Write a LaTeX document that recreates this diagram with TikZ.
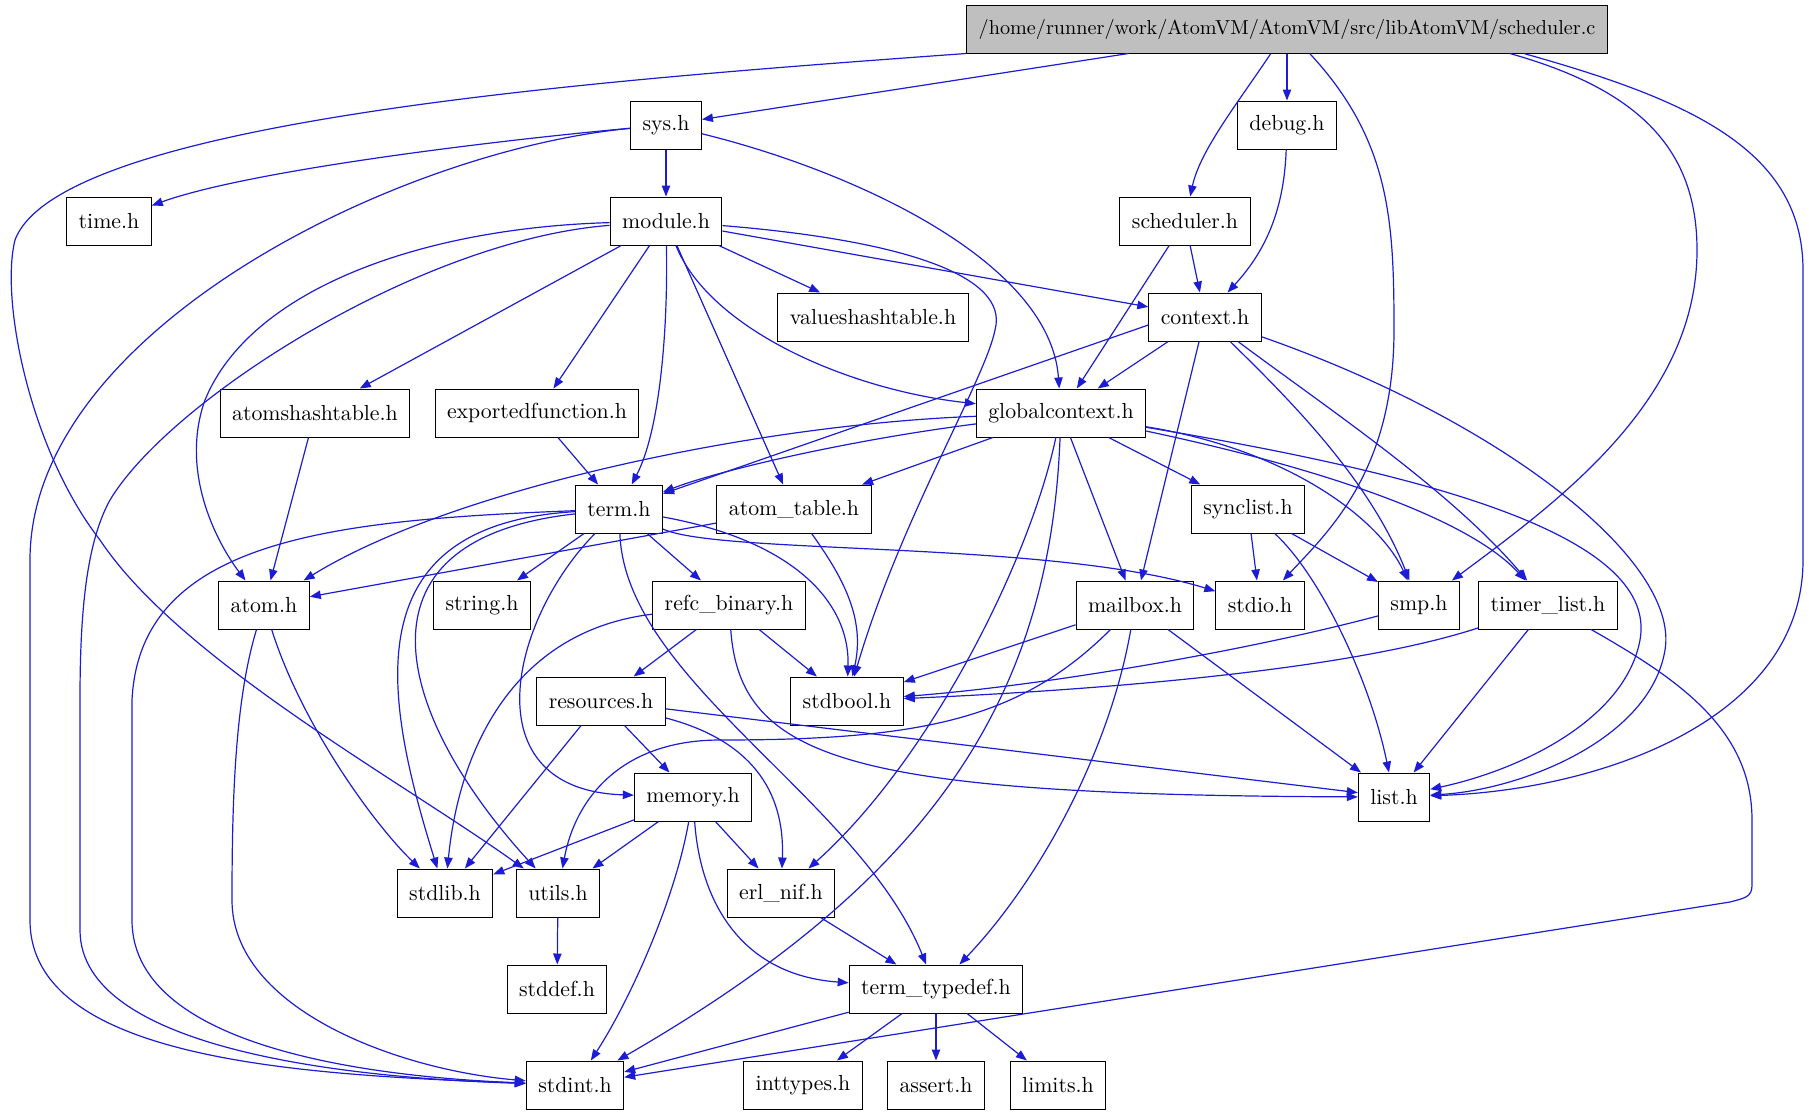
\documentclass[tikz,border=0pt]{standalone}
\usepackage{tikz}
\usetikzlibrary{arrows.meta}
\definecolor{dxblue}{HTML}{1C1CD4}
\definecolor{dxgray}{HTML}{BFBFBF}
\definecolor{dxink}{HTML}{000000}

\begin{document}
\begin{tikzpicture}[
  x=0.5pt, y=-0.5pt,
  font=\fontsize{10.9}{13}\selectfont,
  >={Triangle[length=5.5pt, width=4.2pt]},
  % a header is a plain white box, the source file itself is grey
  file/.style = {draw=dxink, fill=white, line width=0.5pt, inner xsep=6pt,
                 inner ysep=0pt, minimum height=24pt},
  root/.style = {file, fill=dxgray, font=\fontsize{10.1}{13}\selectfont},
  inc/.style  = {->, draw=dxblue, line width=0.6pt},
]
\useasboundingbox (0,0) rectangle (1809,1115);

% ================================================================ files ===
\node[root] (sched)     at (1287,29)  {/home/runner/work/AtomVM/AtomVM/src/libAtomVM/scheduler.c};
\node[file] (sysh)      at (666,125)  {sys.h};
\node[file] (debug)     at (1287,125) {debug.h};
\node[file] (timeh)     at (109,221)  {time.h};
\node[file] (module)    at (666,221)  {module.h};
\node[file] (schedh)    at (1185,221) {scheduler.h};
\node[file] (values)    at (873,317)  {valueshashtable.h};
\node[file] (context)   at (1205,317) {context.h};
\node[file] (atomshash) at (315,413)  {atomshashtable.h};
\node[file] (exported)  at (537,413)  {exportedfunction.h};
\node[file] (global)    at (1061,413) {globalcontext.h};
\node[file] (term)      at (619,509)  {term.h};
\node[file] (atomtab)   at (794,509)  {atom\_table.h};
\node[file] (synclist)  at (1248,509) {synclist.h};
\node[file] (atom)      at (264,605)  {atom.h};
\node[file] (string)    at (482,605)  {string.h};
\node[file] (refc)      at (729,605)  {refc\_binary.h};
\node[file] (mailbox)   at (1135,605) {mailbox.h};
\node[file] (stdio)     at (1260,605) {stdio.h};
\node[file] (smp)       at (1419,605) {smp.h};
\node[file] (timer)     at (1548,605) {timer\_list.h};
\node[file] (resources) at (601,701)  {resources.h};
\node[file] (stdbool)   at (847,701)  {stdbool.h};
\node[file] (memory)    at (693,797)  {memory.h};
\node[file] (list)      at (1394,797) {list.h};
\node[file] (stdlib)    at (445,893)  {stdlib.h};
\node[file] (utils)     at (558,893)  {utils.h};
\node[file] (erlnif)    at (781,893)  {erl\_nif.h};
\node[file] (stddef)    at (557,989)  {stddef.h};
\node[file] (typedef)   at (936,989)  {term\_typedef.h};
\node[file] (stdint)    at (575,1085) {stdint.h};
\node[file] (inttypes)  at (803,1085) {inttypes.h};
\node[file] (assert)    at (936,1085) {assert.h};
\node[file] (limits)    at (1058,1085){limits.h};

% ========================================================= scheduler.c ===
\draw[inc] (sched) -- (sysh);
\draw[inc] (sched) -- (debug);
\draw[inc] (sched) .. controls (1240,100) and (1200,150) .. (schedh);
\draw[inc] (sched.south west) .. controls (600,80) and (60,120) .. (15,240)
           .. controls (0,300) and (30,450) .. (100,540)
           .. controls (180,660) and (400,780) .. (utils);
\draw[inc] (sched) .. controls (1390,140) and (1394,220) .. (1394,330)
           .. controls (1394,470) and (1330,530) .. (stdio);
\draw[inc] ([xshift=-49pt]sched.south east) .. controls (1640,90) and (1697,150) .. (1697,250)
           .. controls (1697,400) and (1560,500) .. (smp);
\draw[inc] ([xshift=-42pt]sched.south east) .. controls (1690,100) and (1803,150) .. (1803,270)
           -- (1803,560) .. controls (1803,720) and (1600,790) .. (list);

% =============================================================== sys.h ===
\draw[inc] (sysh) -- (module);
\draw[inc] (sysh) .. controls (500,140) and (250,170) .. (timeh);
\draw[inc] (sysh) .. controls (850,170) and (1050,260) .. (global);
\draw[inc] (sysh) .. controls (400,150) and (30,330) .. (30,560)
           -- (30,920) .. controls (30,1060) and (300,1075) .. (stdint);

% ============================================================ module.h ===
\draw[inc] (module) -- (values);
\draw[inc] (module) -- (atomshash);
\draw[inc] (module) -- (exported);
\draw[inc] (module) -- (atomtab);
\draw[inc] (module) -- (context);
\draw[inc] (module) .. controls (668,330) and (660,430) .. (term);
\draw[inc] (module) .. controls (710,330) and (850,390) .. (global);
\draw[inc] (module) .. controls (900,240) and (1010,275) .. (995,330)
           .. controls (985,380) and (900,520) .. (stdbool);
\draw[inc] (module) .. controls (420,228) and (250,290) .. (205,400)
           .. controls (180,470) and (215,540) .. (atom);
\draw[inc] (module) .. controls (420,240) and (170,400) .. (110,500)
           .. controls (85,545) and (80,620) .. (80,700) -- (80,930)
           .. controls (80,1050) and (350,1078) .. (stdint);

% ======================================= scheduler.h, debug.h, context.h ===
\draw[inc] (schedh) -- (context);
\draw[inc] (schedh) -- (global);
\draw[inc] (debug) .. controls (1284,215) and (1262,255) .. (context);
\draw[inc] (context) -- (global);
\draw[inc] ([yshift=-4pt]context.west) -- (term);
\draw[inc] (context) -- (mailbox);
\draw[inc] (context) .. controls (1290,400) and (1370,480) .. (smp);
\draw[inc] (context) .. controls (1330,410) and (1450,490) .. (timer);
\draw[inc] (context) .. controls (1500,420) and (1680,560) .. (1665,650)
           .. controls (1650,740) and (1520,790) .. (list);

% ====================================================== globalcontext.h ===
\draw[inc] (global) .. controls (850,440) and (720,470) .. (term);
\draw[inc] (global) .. controls (750,425) and (450,490) .. (atom);
\draw[inc] (global) -- (atomtab);
\draw[inc] (global) -- (synclist);
\draw[inc] (global) -- (mailbox);
\draw[inc] (global) .. controls (1030,560) and (930,760) .. (erlnif);
\draw[inc] (global) .. controls (1050,700) and (930,880) .. (stdint);
\draw[inc] (global) .. controls (1290,450) and (1380,520) .. (smp);
\draw[inc] (global) .. controls (1330,470) and (1470,520) .. (timer);
\draw[inc] (global) .. controls (1400,470) and (1660,530) .. (1640,640)
           .. controls (1625,720) and (1520,770) .. (list);

% ============================================ synclist, mailbox, smp, timer ===
\draw[inc] (synclist) -- (stdio);
\draw[inc] (synclist) -- (smp);
\draw[inc] (synclist) .. controls (1320,575) and (1370,680) .. (list);
\draw[inc] (mailbox) -- (stdbool);
\draw[inc] (mailbox) -- (list);
\draw[inc] (mailbox) .. controls (1020,720) and (920,740) .. (720,740)
           .. controls (620,740) and (575,800) .. (utils);
\draw[inc] (mailbox) .. controls (1110,750) and (1040,880) .. (typedef);
\draw[inc] (smp) .. controls (1250,650) and (1050,685) .. (stdbool);
\draw[inc] (timer) .. controls (1350,670) and (1100,690) .. (stdbool);
\draw[inc] (timer) -- (list);
\draw[inc] (timer) .. controls (1680,680) and (1752,730) .. (1752,820)
           -- (1752,885) .. controls (1752,897) and (1745,898) .. (1730,902)
           -- (stdint);

% ============================================================== term.h ===
\draw[inc] (term) -- (string);
\draw[inc] (term) -- (refc);
\draw[inc] (term) .. controls (330,520) and (140,540) .. (132,700)
           -- (132,920) .. controls (132,1055) and (400,1078) .. (stdint);
\draw[inc] (term) .. controls (350,525) and (385,700) .. (stdlib);
\draw[inc] (term) .. controls (340,540) and (400,720) .. (utils);
\draw[inc] (term) .. controls (510,620) and (470,790) .. (memory);
\draw[inc] (term) .. controls (625,680) and (860,800) .. (typedef);
\draw[inc] (term) .. controls (790,540) and (850,600) .. (stdbool);
\draw[inc] (term) .. controls (720,555) and (1050,540) .. (stdio);

% ===================================================== lower headers ===
\draw[inc] (exported) -- (term);
\draw[inc] (atomshash) -- (atom);
\draw[inc] (atomtab) -- (atom);
\draw[inc] (atomtab) .. controls (845,580) and (865,620) .. (stdbool);
\draw[inc] (atom) .. controls (300,720) and (370,820) .. (stdlib);
\draw[inc] (atom) .. controls (235,700) and (232,800) .. (232,900)
           .. controls (232,1010) and (400,1070) .. (stdint);
\draw[inc] (refc) -- (resources);
\draw[inc] (refc) -- (stdbool);
\draw[inc] (refc) .. controls (520,630) and (460,740) .. (stdlib);
\draw[inc] (refc) .. controls (740,760) and (850,795) .. (list);
\draw[inc] (resources) -- (memory);
\draw[inc] (resources) -- (stdlib);
\draw[inc] (resources) -- (list);
\draw[inc] (resources) .. controls (750,740) and (785,790) .. (erlnif);
\draw[inc] (memory) -- (stdlib);
\draw[inc] (memory) -- (utils);
\draw[inc] (memory) -- (erlnif);
\draw[inc] (memory) .. controls (675,900) and (630,1000) .. (stdint);
\draw[inc] (memory) .. controls (700,900) and (740,975) .. (typedef);
\draw[inc] (utils) -- (stddef);
\draw[inc] (erlnif) -- (typedef);
\draw[inc] (typedef) -- (stdint);
\draw[inc] (typedef) -- (inttypes);
\draw[inc] (typedef) -- (assert);
\draw[inc] (typedef) -- (limits);

\end{tikzpicture}
\end{document}
